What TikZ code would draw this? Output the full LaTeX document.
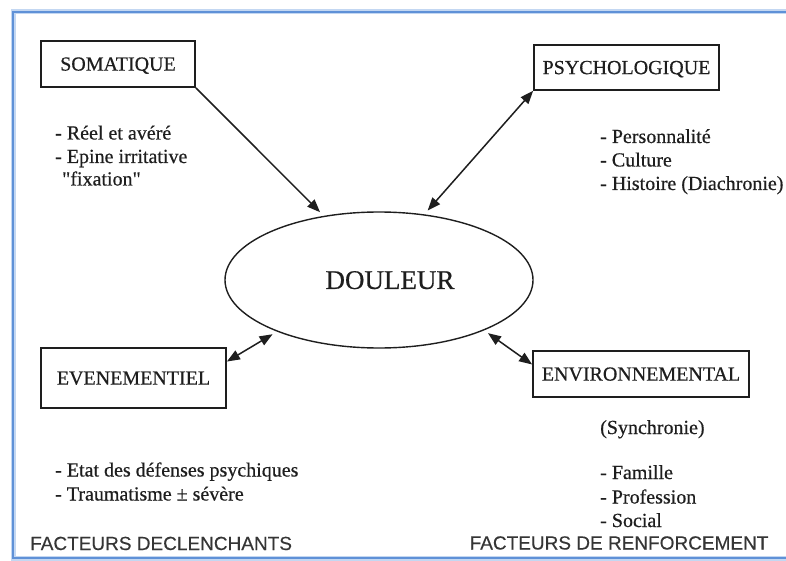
\documentclass[tikz,border=0pt]{standalone}
\usepackage{fontspec}
\setmainfont{Liberation Serif}[FakeBold=0.5]
\newfontfamily\quotef{Liberation Serif}[FakeBold=0.5, Ligatures=TeXOff]
\newfontfamily\sansf{Liberation Sans}[FakeBold=0.3]
\usetikzlibrary{arrows.meta,shapes.geometric}
\definecolor{frameblue}{RGB}{95,145,215}
\definecolor{framehalo}{RGB}{195,215,242}
\definecolor{ink}{RGB}{30,30,30}
\tikzset{
  boxf/.style={draw=ink, line width=1.8pt, inner sep=0pt, text height=13.2pt, text depth=0pt,
    font=\fontsize{20}{24}\selectfont, text=ink},
  item/.style={anchor=base west, inner sep=0pt, font=\fontsize{20}{24}\selectfont, text=ink},
  foot/.style={anchor=base west, inner sep=0pt, font=\sansf\fontsize{19}{23}\selectfont, text=ink!90},
  link/.style={draw=ink, line width=1.5pt},
  onearrow/.style={-{Triangle[length=13pt,width=10pt]}},
  twoarrow/.style={{Triangle[length=13pt,width=10pt]}-{Triangle[length=13pt,width=10pt]}}
}
\begin{document}
\begin{tikzpicture}[x=1pt,y=-1pt]
\useasboundingbox (0,0) rectangle (786,561);
\fill[white] (0,0) rectangle (786,561);
% frame
\draw[framehalo, line width=5pt] (790,12) -- (13,12) -- (13,558) -- (790,558);
\draw[frameblue, line width=2.2pt] (790,12) -- (13,12) -- (13,558) -- (790,558);

% boxes
\node[boxf, minimum width=154pt, minimum height=46pt] (som) at (118,64) {SOMATIQUE};
\node[boxf, minimum width=185pt, minimum height=45pt] (psy) at (626.5,67.5) {PSYCHOLOGIQUE};
\node[boxf, minimum width=185pt, minimum height=60pt] (eve) at (133.5,378) {EVENEMENTIEL};
\node[boxf, minimum width=216pt, minimum height=46pt] (env) at (641,374) {ENVIRONNEMENTAL};

% central ellipse
\node[ellipse, draw=ink, line width=1.4pt, minimum width=308pt, minimum height=136pt,
      inner sep=0pt, outer sep=5pt] (dou) at (379,280) {};
\node[inner sep=0pt, text=ink, font=\fontsize{27}{30}\selectfont, text height=17.9pt, text depth=0pt]
  (doutxt) at (390,280) {DOULEUR};

% connectors
\draw[link, onearrow] (som.south east) -- (dou.131.5);
\draw[link, twoarrow] (dou.55.2) -- (psy.south west);
\draw[link, twoarrow] (eve.10) -- (dou.207.2);
\draw[link, twoarrow] (dou.334) -- (env.175);

% somatique list
\node[item] (s1) at (55,139.5) {- Réel et avéré};
\node[item] (s2) at (55,163) {- Epine irritative};
\node[item] (s3) at (62,185.5) {\quotef "fixation"};

% psychologique list
\node[item] (p1) at (600,143) {- Personnalité};
\node[item] (p2) at (600,166.5) {- Culture};
\node[item] (p3) at (600,190) {- Histoire (Diachronie)};

% evenementiel list
\node[item] (e1) at (55,476.5) {- Etat des défenses psychiques};
\node[item] (e2) at (55,500.5) {- Traumatisme ± sévère};

% environnemental list
\node[item] (n0) at (600,434) {(Synchronie)};
\node[item] (n1) at (600,479) {- Famille};
\node[item] (n2) at (600,503.5) {- Profession};
\node[item] (n3) at (600,527) {- Social};

% footers
\node[foot] (f1) at (30,550) {FACTEURS DECLENCHANTS};
\node[foot] (f2) at (469.5,549.5) {FACTEURS DE RENFORCEMENT};
\end{tikzpicture}
\end{document}
